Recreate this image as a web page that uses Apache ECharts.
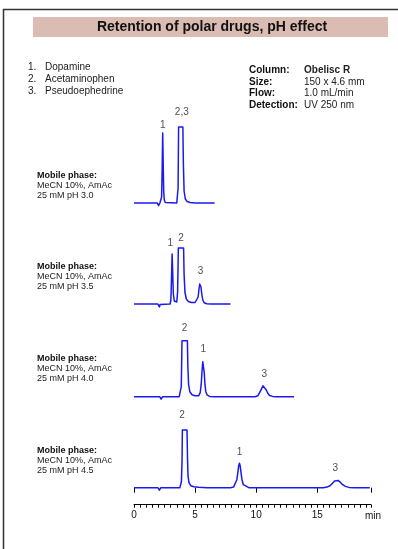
<!DOCTYPE html>
<html>
<head>
<meta charset="utf-8">
<script src="https://cdn.jsdelivr.net/npm/echarts@6/dist/echarts.min.js"></script>
<style>
html,body{margin:0;padding:0;background:#fff;}
#chart{width:398px;height:549px;}
</style>
</head>
<body>
<div id="chart"></div>
<script>
// ---- Data (time in min, detector signal in arbitrary units) ----
const title = 'Retention of polar drugs, pH effect';
const compoundNumbers = ['1.', '2.', '3.'];
const compoundNames = ['Dopamine', 'Acetaminophen', 'Pseudoephedrine'];
const conditionLabels = ['Column:', 'Size:', 'Flow:', 'Detection:'];
const conditionValues = ['Obelisc R', '150 x 4.6 mm', '1.0 mL/min', 'UV 250 nm'];
const mobileHeader = 'Mobile phase:';
const mobileLine2 = 'MeCN 10%, AmAc';
const mobileLine3 = ['25 mM pH 3.0', '25 mM pH 3.5', '25 mM pH 4.0', '25 mM pH 4.5'];

const pH30 = [[0,0],[1.9,0],[1.98,-1],[2.02,-2.5],[2.07,-0.5],[2.12,0],[2.2,0.5],[2.26,6],[2.3,30],[2.35,70],[2.39,40],[2.43,12],[2.48,3],[2.56,0.5],[2.7,0],[3.5,0],[3.56,2],[3.61,15],[3.65,76],[4.0,76],[4.04,40],[4.1,12],[4.2,4],[4.35,1.5],[4.6,0.5],[5.0,0],[6.6,0]];
const pH35 = [[0,0],[1.95,0],[2.04,-1],[2.08,-3],[2.13,-0.5],[2.2,0],[2.95,0],[3.02,4],[3.07,25],[3.12,50],[3.17,30],[3.22,10],[3.3,3],[3.4,1],[3.5,2],[3.57,12],[3.63,56],[4.06,56],[4.1,30],[4.17,12],[4.28,5],[4.45,2.5],[4.7,1.5],[5.0,1.5],[5.15,2.5],[5.25,7],[5.32,15],[5.38,20],[5.42,21],[5.48,17],[5.55,10],[5.63,4],[5.75,1.2],[5.95,0.3],[6.3,0],[7.9,0]];
const pH40 = [[0,0],[2.1,0],[2.18,-1],[2.22,-2.5],[2.27,-0.5],[2.35,0],[3.7,0],[3.8,2],[3.87,10],[3.93,56],[4.37,56],[4.41,30],[4.47,12],[4.57,5],[4.75,2],[5.0,1],[5.3,1],[5.42,4],[5.5,12],[5.57,26],[5.63,35],[5.66,36],[5.7,33],[5.75,24],[5.81,12],[5.88,5],[6.0,1.5],[6.2,0.3],[6.6,0],[9.9,0],[10.15,1],[10.3,3],[10.45,8],[10.55,11],[10.6,11.7],[10.7,10.5],[10.82,7],[10.95,3.5],[11.1,1.2],[11.35,0.3],[11.7,0],[13.1,0]];
const pH45 = [[0,0],[1.95,0],[2.03,-1],[2.08,-2.5],[2.13,-0.5],[2.2,0],[3.75,0],[3.82,1],[3.88,6],[3.93,25],[3.96,57.7],[4.34,57.7],[4.38,30],[4.42,12],[4.5,5],[4.65,2],[4.9,1],[5.3,0.4],[6.0,0],[7.9,0],[8.15,0.6],[8.3,2.5],[8.42,8],[8.5,15],[8.57,22],[8.63,24.4],[8.69,22],[8.76,15],[8.84,8],[8.95,3],[9.1,1],[9.4,0],[15.5,0],[15.8,0.6],[16.05,2],[16.25,4.5],[16.42,6.8],[16.55,7.7],[16.7,7.3],[16.88,5.5],[17.08,3],[17.3,1.3],[17.6,0.3],[18.0,0],[19.3,0]];

const labels30 = [['1',2.35,78],['2,3',3.91,91]];
const labels35 = [['1',2.98,60.7],['2',3.86,65.7],['3',5.44,32.3]];
const labels40 = [['2',4.13,68.4],['1',5.68,47.4],['3',10.67,22.4]];
const labels45 = [['2',3.94,72.7],['1',8.63,35.4],['3',16.48,19.4]];

const xTicks = [0, 5, 10, 15];
const xMin = 0, xMax = 19.4;

// ---- Layout ----
const traces = [pH30, pH35, pH40, pH45];
const peakLabels = [labels30, labels35, labels40, labels45];
const gridTops = [103, 204, 296.7, 387.7];
const mobileTops = [176, 266.5, 359, 451];
const FONT = '"Liberation Sans", Arial, sans-serif';

const chart = echarts.init(document.getElementById('chart'), null, {renderer: 'canvas'});

const grids = gridTops.map(t => ({left: 134, right: 27, top: t, height: 117}));
const xAxes = traces.map((_, i) => ({
  gridIndex: i, type: 'value', min: xMin, max: xMax,
  show: i === 3, interval: 0.5,
  axisLine: {show: true, onZero: false, lineStyle: {color: '#000', width: 1}},
  axisTick: {show: true, length: 3, lineStyle: {color: '#000', width: 1}},
  splitLine: {show: false},
  axisLabel: {
    show: true, fontSize: 10, color: '#111', fontFamily: FONT, margin: 6,
    formatter: v => (xTicks.indexOf(Math.round(v * 100) / 100) >= 0 ? String(v) : '')
  },
  name: i === 3 ? 'min' : '', nameLocation: 'end', nameGap: 2,
  nameTextStyle: {fontSize: 10, color: '#111', fontFamily: FONT, align: 'center', verticalAlign: 'top', padding: [7, 0, 0, 0]}
}));
xAxes.push({
  gridIndex: 3, type: 'value', min: xMin, max: xMax, interval: 5, position: 'bottom', offset: 0,
  axisLine: {show: false}, axisLabel: {show: false}, splitLine: {show: false},
  axisTick: {show: true, length: 5, lineStyle: {color: '#000', width: 1}}
});
const yAxes = traces.map((_, i) => ({gridIndex: i, type: 'value', min: -17, max: 100, show: false}));

const series = [];
traces.forEach((tr, i) => {
  series.push({
    type: 'line', xAxisIndex: i, yAxisIndex: i, data: tr, showSymbol: false, symbol: 'none',
    lineStyle: {color: '#1a1aee', width: 1.5, join: 'round'}, silent: true
  });
  series.push({
    type: 'scatter', xAxisIndex: i, yAxisIndex: i, clip: false, symbolSize: 1,
    itemStyle: {color: 'rgba(0,0,0,0)'}, silent: true,
    data: peakLabels[i].map(l => ({name: l[0], value: [l[1], l[2]]})),
    label: {show: true, position: 'inside', formatter: p => p.name, fontSize: 10, color: '#222', fontFamily: FONT}
  });
});

const graphics = [];
graphics.push({type: 'rect', shape: {x: 3.5, y: 9.5, width: 600, height: 700}, style: {fill: 'none', stroke: '#333', lineWidth: 1.5}, z: 10});
graphics.push({type: 'rect', shape: {x: 33, y: 17, width: 355, height: 20}, style: {fill: '#dbbcb3'}, z: 1});
graphics.push({type: 'text', style: {text: title, x: 212, y: 27.5, font: 'bold 14px ' + FONT, fill: '#111', textAlign: 'center', textVerticalAlign: 'middle', align: 'center', verticalAlign: 'middle'}, z: 2});
compoundNames.forEach((n, i) => {
  const y = 67.5 + i * 12;
  graphics.push({type: 'text', style: {text: compoundNumbers[i], x: 28, y: y, font: '10px ' + FONT, fill: '#222', verticalAlign: 'middle', textVerticalAlign: 'middle'}});
  graphics.push({type: 'text', style: {text: n, x: 45, y: y, font: '10px ' + FONT, fill: '#222', verticalAlign: 'middle', textVerticalAlign: 'middle'}});
});
conditionLabels.forEach((l, i) => {
  const y = 70.5 + i * 11.5;
  graphics.push({type: 'text', style: {text: l, x: 249, y: y, font: 'bold 10px ' + FONT, fill: '#111', verticalAlign: 'middle', textVerticalAlign: 'middle'}});
  graphics.push({type: 'text', style: {text: conditionValues[i], x: 304, y: y, font: (i === 0 ? 'bold ' : '') + '10px ' + FONT, fill: '#222', verticalAlign: 'middle', textVerticalAlign: 'middle'}});
});
mobileLine3.forEach((t, i) => {
  const y0 = mobileTops[i];
  graphics.push({type: 'text', style: {text: mobileHeader, x: 37, y: y0, font: 'bold 9px ' + FONT, fill: '#111', verticalAlign: 'middle', textVerticalAlign: 'middle'}});
  graphics.push({type: 'text', style: {text: mobileLine2, x: 37, y: y0 + 10, font: '9px ' + FONT, fill: '#222', verticalAlign: 'middle', textVerticalAlign: 'middle'}});
  graphics.push({type: 'text', style: {text: t, x: 37, y: y0 + 20, font: '9px ' + FONT, fill: '#222', verticalAlign: 'middle', textVerticalAlign: 'middle'}});
});

chart.setOption({
  animation: false,
  backgroundColor: '#fff',
  grid: grids,
  xAxis: xAxes,
  yAxis: yAxes,
  series: series,
  graphic: graphics
});
</script>
</body>
</html>
